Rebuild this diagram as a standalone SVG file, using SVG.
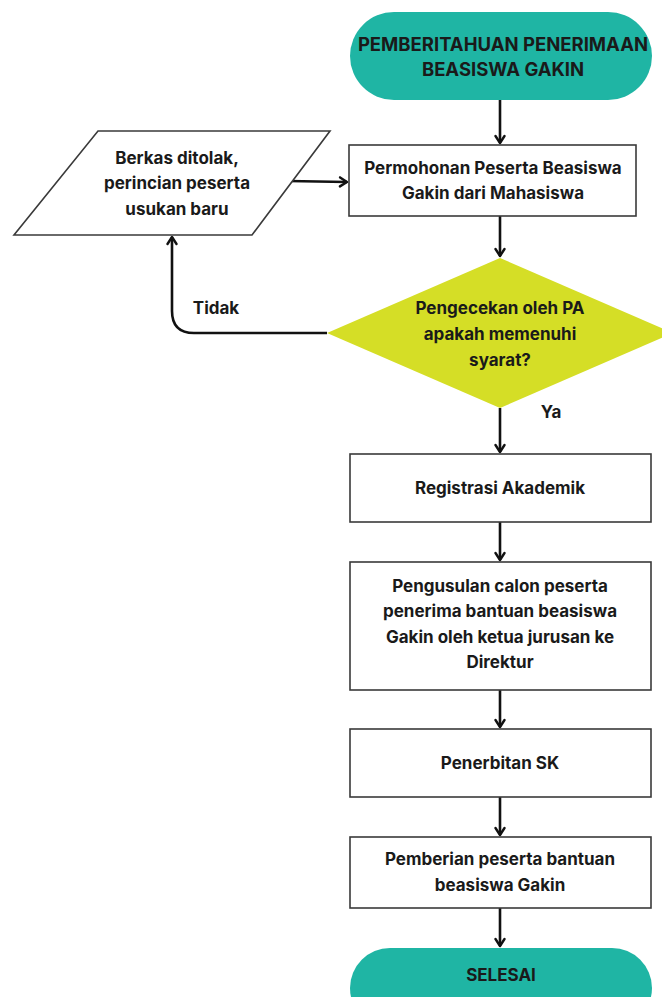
<svg xmlns="http://www.w3.org/2000/svg" width="662" height="997" viewBox="0 0 662 997">
  <style>
    .txt { font-family: Inter, "Open Sans", "Liberation Sans", sans-serif; font-weight: 700; font-size: 17px; fill: #1a1a1a; text-anchor: middle; dominant-baseline: central; }
    .cap { font-size: 18.5px; }
    .box { fill: #ffffff; stroke: #3a3a3a; stroke-width: 1.6; }
    .term { fill: #1fb5a4; }
    .dec { fill: #d5de26; }
    .con { fill: none; stroke: #111111; stroke-width: 2.6; marker-end: url(#head); }
  </style>
  <defs>
    <marker id="head" viewBox="0 0 12 12" refX="10" refY="6" markerWidth="12" markerHeight="12" markerUnits="userSpaceOnUse" orient="auto">
      <path d="M3,1.5 L10,6 L3,10.5" fill="none" stroke="#111111" stroke-width="2.4" stroke-linecap="round" stroke-linejoin="round"/>
    </marker>
  </defs>
  <rect width="662" height="997" fill="#ffffff"/>

  <g id="connectors">
    <line class="con" x1="500" y1="100" x2="500" y2="143"/>
    <line class="con" x1="288" y1="181" x2="347" y2="182"/>
    <line class="con" x1="500" y1="216" x2="500" y2="256"/>
    <path class="con" d="M327,333 L194,333 Q172,333 172,311 L172,237"/>
    <line class="con" x1="500" y1="408" x2="500" y2="452"/>
    <line class="con" x1="500" y1="522" x2="500" y2="560"/>
    <line class="con" x1="500" y1="690" x2="500" y2="727"/>
    <line class="con" x1="500" y1="797" x2="500" y2="835"/>
    <line class="con" x1="500" y1="908" x2="500" y2="946"/>
    <text class="txt" x="216" y="308">Tidak</text>
    <text class="txt" x="551" y="412">Ya</text>
  </g>

  <g id="start">
    <rect class="term" x="350" y="12" width="302" height="88" rx="44"/>
    <text class="txt cap" x="503" y="44">PEMBERITAHUAN PENERIMAAN</text>
    <text class="txt cap" x="503" y="69">BEASISWA GAKIN</text>
  </g>

  <g id="rejected">
    <polygon class="box" points="98,131 330,131 252,235 14,235"/>
    <text class="txt" x="177" y="158">Berkas ditolak,</text>
    <text class="txt" x="177" y="183">perincian peserta</text>
    <text class="txt" x="177" y="209">usukan baru</text>
  </g>

  <g id="application">
    <rect class="box" x="349" y="145" width="287" height="71"/>
    <text class="txt" x="493" y="168">Permohonan Peserta Beasiswa</text>
    <text class="txt" x="493" y="193">Gakin dari Mahasiswa</text>
  </g>

  <g id="check">
    <polygon class="dec" points="500,258 673,333 500,408 327,333"/>
    <text class="txt" x="500" y="308">Pengecekan oleh PA</text>
    <text class="txt" x="500" y="334">apakah memenuhi</text>
    <text class="txt" x="500" y="360">syarat?</text>
  </g>

  <g id="registration">
    <rect class="box" x="350" y="454" width="301" height="68"/>
    <text class="txt" x="500" y="488">Registrasi Akademik</text>
  </g>

  <g id="proposal">
    <rect class="box" x="350" y="562" width="301" height="128"/>
    <text class="txt" x="500" y="586">Pengusulan calon peserta</text>
    <text class="txt" x="500" y="611">penerima bantuan beasiswa</text>
    <text class="txt" x="500" y="637">Gakin oleh ketua jurusan ke</text>
    <text class="txt" x="500" y="662">Direktur</text>
  </g>

  <g id="decree">
    <rect class="box" x="350" y="729" width="301" height="68"/>
    <text class="txt" x="500" y="763">Penerbitan SK</text>
  </g>

  <g id="award">
    <rect class="box" x="350" y="837" width="301" height="71"/>
    <text class="txt" x="500" y="859">Pemberian peserta bantuan</text>
    <text class="txt" x="500" y="885">beasiswa Gakin</text>
  </g>

  <g id="end">
    <rect class="term" x="350" y="948" width="302" height="80" rx="40"/>
    <text class="txt" x="501" y="975">SELESAI</text>
  </g>
</svg>
